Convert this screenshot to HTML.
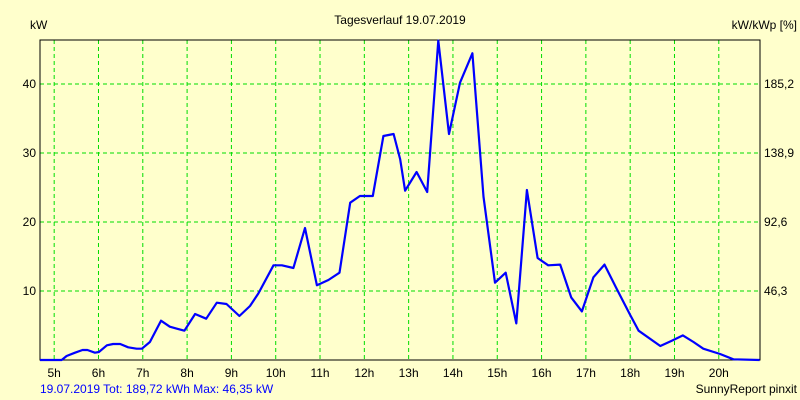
<!DOCTYPE html>
<html><head><meta charset="utf-8"><style>
html,body{margin:0;padding:0;background:#ffffcc;}
svg{display:block;font-family:"Liberation Sans",sans-serif;font-size:12px;}
</style></head><body>
<svg id="chart" width="800" height="400">
<rect x="0" y="0" width="800" height="400" fill="#ffffcc"/>
<text x="400" y="24" text-anchor="middle">Tagesverlauf 19.07.2019</text>
<text x="30" y="29">kW</text>
<text x="797" y="29" text-anchor="end">kW/kWp [%]</text>
<g id="grid"></g>
<g id="axes"></g>
<text x="40" y="393" fill="#0000ff">19.07.2019 Tot: 189,72 kWh Max: 46,35 kW</text>
<text x="797" y="393" text-anchor="end">SunnyReport pinxit</text>
</svg>
<script>
const hours = [4.68,5.17,5.28,5.47,5.64,5.75,5.92,6.01,6.19,6.33,6.49,6.67,6.86,6.98,7.16,7.41,7.61,7.77,7.94,8.18,8.43,8.67,8.89,9.18,9.42,9.61,9.95,10.14,10.4,10.66,10.93,11.19,11.44,11.68,11.9,12.19,12.43,12.66,12.81,12.92,13.18,13.42,13.67,13.91,14.16,14.44,14.69,14.95,15.19,15.43,15.67,15.91,16.15,16.42,16.67,16.91,17.17,17.42,17.7,18.0,18.19,18.68,18.94,19.19,19.43,19.65,20.03,20.33,20.92];
const powerKW = [0,0,0.58,1.06,1.45,1.45,1.06,1.16,2.13,2.32,2.32,1.84,1.64,1.64,2.61,5.7,4.83,4.54,4.25,6.67,5.99,8.3,8.12,6.38,7.83,9.66,13.72,13.72,13.33,19.13,10.82,11.59,12.65,22.8,23.77,23.77,32.46,32.75,29.08,24.54,27.25,24.35,46.3,32.75,40.19,44.45,23.67,11.21,12.65,5.31,24.64,14.78,13.72,13.82,9.08,7.05,11.98,13.82,10.24,6.52,4.25,2.03,2.8,3.57,2.61,1.64,0.87,0.1,0];
const yTicks = [10,20,30,40];
const yTickLabels = ["10","20","30","40"];
const yRightLabels = ["46,3","92,6","138,9","185,2"];
const xTicks = [5,6,7,8,9,10,11,12,13,14,15,16,17,18,19,20];

const L=40,R=760,T=40,B=360,X0=4.68,X1=20.93,YMAX=46.38;
const xs=h=>L+(h-X0)/(X1-X0)*(R-L);
const ys=v=>B-v/YMAX*(B-T);
const NS="http://www.w3.org/2000/svg";
const svg=document.getElementById('chart');
const grid=document.getElementById('grid');
const axes=document.getElementById('axes');
function mk(tag,attrs,parent){const e=document.createElementNS(NS,tag);for(const k in attrs)e.setAttribute(k,attrs[k]);parent.appendChild(e);return e;}

yTicks.forEach((v,i)=>{
  const y=ys(v);
  const g=mk('line',{x1:L,x2:R,y1:y,y2:y,stroke:'#00dd00','stroke-dasharray':'4,3','stroke-width':1},grid);
  
  
  const t=mk('text',{x:L-4,y:y+4,'text-anchor':'end'},axes);
  t.textContent=yTickLabels[i];
  
  
  const t2=mk('text',{x:R+4,y:y+4},axes);
  t2.textContent=yRightLabels[i];
  
  
});
xTicks.forEach(h=>{
  const x=xs(h);
  const g=mk('line',{x1:x,x2:x,y1:T,y2:B,stroke:'#00dd00','stroke-dasharray':'4,3','stroke-width':1},grid);
  
  
  const t=mk('text',{x:x,y:B+17,'text-anchor':'middle'},axes);
  t.textContent=h+'h';
  
  
});
const frame=mk('rect',{x:L,y:T,width:R-L,height:B-T,fill:'none',stroke:'#000','stroke-width':1},axes);


const pts=hours.map((h,i)=>xs(h).toFixed(1)+','+ys(powerKW[i]).toFixed(1)).join(' ');
const line=mk('polyline',{points:pts,fill:'none',stroke:'#0000ff','stroke-width':2.2,'stroke-linejoin':'round'},axes);


</script>
</body></html>
